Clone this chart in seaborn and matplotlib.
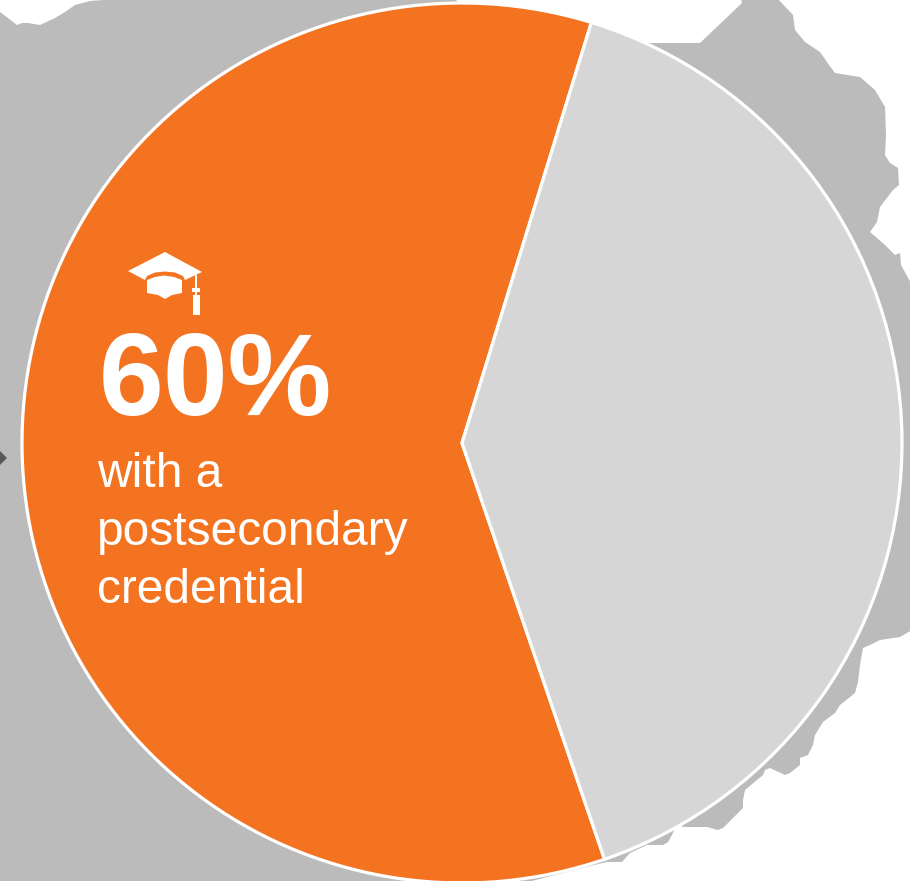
import matplotlib
matplotlib.use("Agg")
import matplotlib.pyplot as plt
from matplotlib.patches import Polygon
import seaborn as sns

# Data
categories = ["with a postsecondary credential", "without a postsecondary credential"]
shares = [60, 40]
colors = ["#F47321", "#D6D6D6"]
headline = "60%"
caption_lines = ["with a", "postsecondary", "credential"]

W, H = 910, 881
sns.set_theme(style="white")
plt.rcParams["font.family"] = ["Liberation Sans", "DejaVu Sans"]


def P(x, y):
    """Image pixel position to axes data position."""
    return (x, H - y)


fig = plt.figure(figsize=(9.10, 8.81), dpi=100, facecolor="white")
ax = fig.add_axes([0, 0, 1, 1])
ax.set_axis_off()

# Backdrop: grey map silhouette behind the pie
map_outline = [
    (0, 12), (17, 25), (22, 23), (28, 23), (40, 25), (55, 18), (65, 12), (75, 5), (90, 1),
    (130, -2), (453, -2), (470, 10), (640, 43), (700, 43), (742, 3), (741, -2), (777, -2),
    (793, 15), (795, 30), (805, 42), (820, 52), (829, 65), (835, 73), (860, 77), (875, 90),
    (885, 107), (886, 135), (885, 155), (890, 163), (898, 168), (899, 185), (893, 190),
    (880, 207), (877, 222), (870, 232), (885, 245), (895, 255), (900, 253), (901, 265),
    (912, 285), (912, 630), (900, 637), (880, 640), (870, 645), (863, 648), (860, 665),
    (858, 682), (855, 693), (840, 705), (835, 713), (823, 722), (815, 735), (813, 745),
    (808, 755), (800, 758), (800, 765), (790, 773), (785, 775), (770, 768), (765, 770),
    (763, 775), (745, 790), (743, 800), (743, 808), (723, 828), (718, 830), (707, 827),
    (683, 827), (678, 822), (672, 835), (668, 842), (663, 845), (647, 845), (630, 853),
    (622, 862), (607, 862), (590, 866), (520, 884), (-2, 884), (-2, 12),
]
ax.add_patch(Polygon([P(*p) for p in map_outline], closed=True, fc="#BBBBBB", ec="none", zorder=1))

# Small arrow tip cut off at the left edge
ax.plot(*P(0, 458), marker="D", ms=7.5, color="#595959", mew=0, zorder=2, clip_on=True)

# Pie
ax.pie(
    shares,
    colors=colors,
    startangle=72.9,
    counterclock=True,
    center=P(462, 443),
    radius=440,
    frame=True,
    wedgeprops={"edgecolor": "white", "linewidth": 2.3, "zorder": 3, "joinstyle": "miter"},
)
ax.set_xlim(0, W)
ax.set_ylim(0, H)
ax.set_aspect("equal")
ax.set_axis_off()

# Graduation cap icon
board = [(128, 271), (165, 252), (202, 272), (185, 280), (183, 276), (175, 272.5), (165, 271.5),
         (155, 272.5), (147, 276), (145, 280)]
crown = [(147, 280), (155, 277), (164, 275.5), (174, 277), (182, 280), (182, 293), (172, 295),
         (165, 299), (158, 295), (147, 293)]
tassel = [(194.5, 275), (196.5, 275), (196.5, 288), (200, 288), (200, 292), (197, 292), (197, 295),
          (200, 295), (200, 315), (193, 315), (193, 295), (195, 295), (195, 292), (192, 292),
          (192, 288), (194.5, 288)]
for shape in (board, crown, tassel):
    ax.add_patch(Polygon([P(*p) for p in shape], closed=True, fc="white", ec="none", zorder=5))

# Text
ax.text(*P(99, 415), headline, color="white", fontsize=84, fontweight="bold",
        ha="left", va="baseline", zorder=6)
for line, baseline in zip(caption_lines, [487, 545, 603]):
    ax.text(*P(97, baseline), line, color="white", fontsize=34.5,
            ha="left", va="baseline", zorder=6)

fig.savefig("out.png", dpi=100)
